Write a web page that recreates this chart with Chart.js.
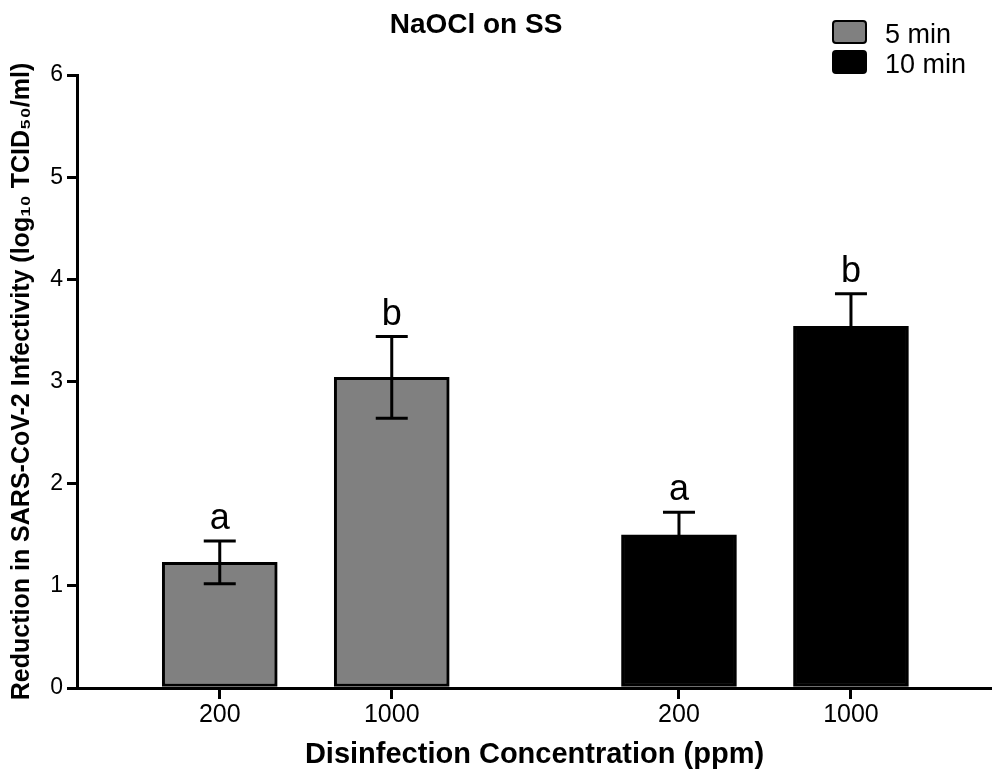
<!DOCTYPE html>
<html>
<head>
<meta charset="utf-8">
<script src="https://cdn.jsdelivr.net/npm/chart.js@4.4.1/dist/chart.umd.min.js"></script>
<style>
  body { margin: 0; background: #fff; }
  #wrap { width: 992px; height: 772px; }
</style>
</head>
<body>
<div id="wrap"><canvas id="barChart"></canvas></div>
<script>
// values
const concentrations = ['200', '1000'];
const timeLabels = ['5 min', '10 min'];
const reduction5 = [1.23, 3.04];
const sem5 = [0.21, 0.40];
const reduction10 = [1.50, 3.54];
const sem10 = [0.22, 0.32];
const letters5 = ['a', 'b'];
const letters10 = ['a', 'b'];

const FONT = "'Liberation Sans', Arial, sans-serif";
Chart.defaults.font.family = FONT;
Chart.defaults.color = '#000';

// second group sits a bit further right than the first
const groupShift = 2.67;
const xPos = (g, i) => 1 + i + g * groupShift;

const tickValues = [];
const tickText = [];
[0, 1].forEach(g => concentrations.forEach((c, i) => {
    tickValues.push(xPos(g, i));
    tickText.push(c);
}));

const makePoints = (vals, g) => vals.map((v, i) => ({ x: xPos(g, i), y: v }));

// error bars, significance letters, title and legend
const extras = {
    id: 'extras',
    afterDatasetsDraw(chart) {
        const ctx = chart.ctx;
        const yScale = chart.scales.y;
        ctx.save();
        chart.data.datasets.forEach((ds, d) => {
            const meta = chart.getDatasetMeta(d);
            meta.data.forEach((bar, i) => {
                const v = ds.data[i].y;
                const e = ds.errors[i];
                const yTop = yScale.getPixelForValue(v + e);
                const yBot = yScale.getPixelForValue(v - e);
                ctx.strokeStyle = '#000';
                ctx.lineWidth = 3;
                ctx.beginPath();
                ctx.moveTo(bar.x, yTop);
                ctx.lineTo(bar.x, yBot);
                ctx.moveTo(bar.x - 16, yTop);
                ctx.lineTo(bar.x + 16, yTop);
                ctx.moveTo(bar.x - 16, yBot);
                ctx.lineTo(bar.x + 16, yBot);
                ctx.stroke();

                ctx.fillStyle = '#000';
                ctx.font = '36px ' + FONT;
                ctx.textAlign = 'center';
                ctx.textBaseline = 'alphabetic';
                ctx.fillText(ds.letters[i], bar.x, yTop - 12);
            });
        });

        // title
        ctx.font = 'bold 28px ' + FONT;
        ctx.textAlign = 'center';
        ctx.fillText('NaOCl on SS', 476, 33);

        // legend
        ctx.textAlign = 'left';
        ctx.font = '27px ' + FONT;
        chart.data.datasets.forEach((ds, d) => {
            const top = 20 + d * 30;
            ctx.fillStyle = ds.backgroundColor;
            ctx.strokeStyle = '#000';
            ctx.lineWidth = 2;
            ctx.beginPath();
            ctx.roundRect(833, top + 1, 33, 22, 3);
            ctx.fill();
            ctx.stroke();
            ctx.fillStyle = '#000';
            ctx.fillText(ds.label, 885, top + 23);
        });
        ctx.restore();
    }
};

new Chart(document.getElementById('barChart'), {
    type: 'bar',
    data: {
        datasets: [
            {
                label: timeLabels[0],
                data: makePoints(reduction5, 0),
                errors: sem5,
                letters: letters5,
                backgroundColor: '#808080',
                borderColor: '#000',
                borderWidth: 3,
                borderSkipped: false
            },
            {
                label: timeLabels[1],
                data: makePoints(reduction10, 1),
                errors: sem10,
                letters: letters10,
                backgroundColor: '#000000',
                borderColor: '#000',
                borderWidth: 3,
                borderSkipped: false
            }
        ]
    },
    options: {
        responsive: true,
        maintainAspectRatio: false,
        animation: false,
        grouped: false,
        barThickness: 115,
        layout: { padding: { top: 75, left: 0, right: 0, bottom: 0 } },
        plugins: {
            legend: { display: false },
            title: { display: false },
            tooltip: { enabled: false }
        },
        scales: {
            x: {
                type: 'linear',
                min: 0.17,
                max: 5.49,
                offset: false,
                afterBuildTicks: scale => { scale.ticks = tickValues.map(v => ({ value: v })); },
                afterFit: scale => { scale.height = 84; },
                ticks: {
                    font: { size: 25 },
                    color: '#000',
                    padding: 1,
                    maxRotation: 0,
                    autoSkip: false,
                    callback: (value, index) => tickText[index]
                },
                grid: { offset: false, drawOnChartArea: false, drawTicks: true, tickLength: 11, color: '#000', lineWidth: 3 },
                border: { display: true, color: '#000', width: 3 },
                title: {
                    display: true,
                    text: 'Disinfection Concentration (ppm)',
                    font: { size: 29, weight: 'bold' },
                    color: '#000',
                    padding: { top: 1, bottom: 0 }
                }
            },
            y: {
                min: 0,
                max: 6,
                afterFit: scale => { scale.width = 77; },
                ticks: { stepSize: 1, font: { size: 23 }, color: '#000', padding: 4 },
                grid: { drawOnChartArea: false, drawTicks: true, tickLength: 10, color: '#000', lineWidth: 3 },
                border: { display: true, color: '#000', width: 3 },
                title: {
                    display: true,
                    text: 'Reduction in SARS-CoV-2 Infectivity (log₁₀ TCID₅₀/ml)',
                    font: { size: 25, weight: 'bold' },
                    color: '#000',
                    padding: { top: 7, bottom: 0 }
                }
            }
        }
    },
    plugins: [extras]
});
</script>
</body>
</html>
